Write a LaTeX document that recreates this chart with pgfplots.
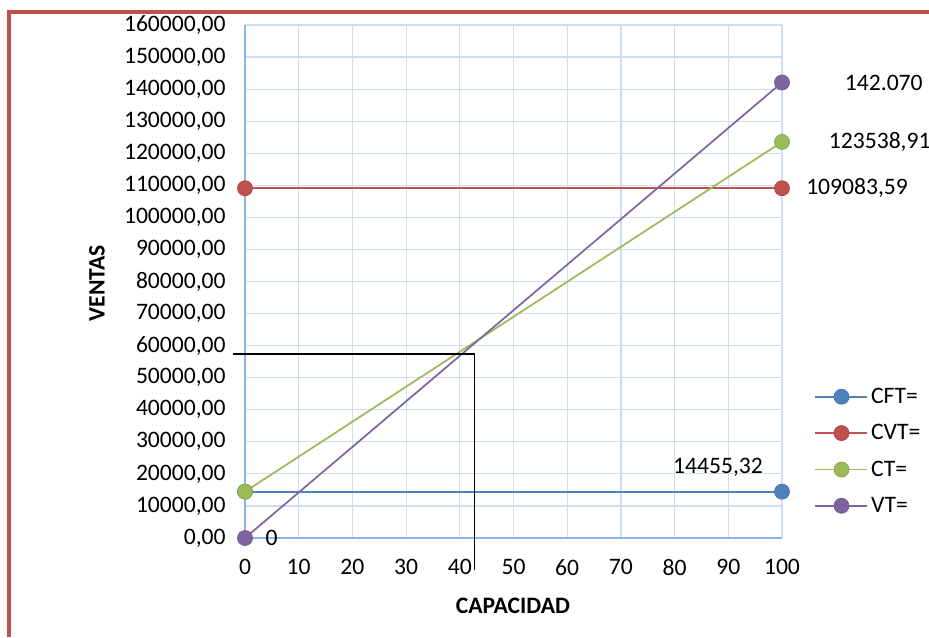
\documentclass[border=0pt]{standalone}
\usepackage{pgfplots}
\pgfplotsset{compat=1.18}
\usepackage{fontspec}
\setmainfont{Carlito}
\definecolor{framered}{RGB}{192,80,77}
\definecolor{cftblue}{RGB}{79,129,189}
\definecolor{cvtred}{RGB}{192,80,77}
\definecolor{ctgreen}{RGB}{155,187,89}
\definecolor{vtpurple}{RGB}{128,100,162}
\definecolor{gridblue}{RGB}{205,221,242}
\definecolor{axisblue}{RGB}{141,180,226}
\newcommand{\chartfont}{\fontsize{17.7}{21}\selectfont}
\begin{document}
\begin{tikzpicture}
\useasboundingbox (0,0) rectangle (696.75pt,-477.75pt);
% page frame
\draw[line width=3pt, framered] (6.75pt,-478pt) -- (6.75pt,-9pt) -- (697pt,-9pt);
\begin{axis}[
  at={(183.75pt,-403.5pt)}, anchor=south west,
  scale only axis, width=402.75pt, height=384.75pt,
  xmin=0, xmax=100, ymin=0, ymax=160000,
  xtick={0,10,...,100}, ytick={0,10000,...,160000},
  axis x line=bottom, axis y line=left,
  axis line style={axisblue, line width=1pt, -},
  major tick length=0pt,
  grid=major, grid style={gridblue, line width=0.9pt},
  clip=false,
  scaled y ticks=false,
  /pgf/number format/assume math mode=true,
  yticklabel={\pgfmathprintnumber[fixed, fixed zerofill, precision=2, use comma, 1000 sep={}]{\tick}},
  xticklabel={\pgfmathprintnumber[fixed, precision=0]{\tick}},
  ticklabel style={font=\chartfont},
  yticklabel style={xshift=-11pt},
  xticklabel style={yshift=-12.5pt},
  xlabel={CAPACIDAD}, ylabel={VENTAS},
  label style={font=\chartfont\bfseries},
  xlabel style={at={(axis description cs:0.499,-0.1326)}, anchor=center},
  ylabel style={at={(axis description cs:-0.2756,0.497)}, anchor=center},
  legend style={draw=none, fill=none, font=\chartfont,
    at={(axis description cs:1.06,0.298)}, anchor=north west,
    row sep=10.3pt, inner sep=0pt, cells={anchor=west}},
  legend image code/.code={%
    \draw[mark repeat=2, mark phase=2, #1] plot coordinates {(0pt,0pt) (19.5pt,0pt) (39pt,0pt)};},
  every axis plot/.append style={line width=1.3pt, mark=*, mark size=5.6pt},
]
\addplot[cftblue, line width=1.5pt, mark options={fill=cftblue, draw=cftblue!90!black, line width=0.6pt}] coordinates {(0,14455.32) (100,14455.32)};
\addplot[cvtred, mark options={fill=cvtred, draw=cvtred!90!black, line width=0.6pt}] coordinates {(0,109083.59) (100,109083.59)};
\addplot[ctgreen, mark options={fill=ctgreen, draw=ctgreen!90!black, line width=0.6pt}] coordinates {(0,14455.32) (100,123538.91)};
\addplot[vtpurple, mark options={fill=vtpurple, draw=vtpurple!90!black, line width=0.6pt}] coordinates {(0,0) (100,142070)};
\legend{CFT=, CVT=, CT=, VT=}
% break-even guide lines
\addplot[black, line width=1.1pt, mark=none, forget plot] coordinates {(-2.23,57400) (42.7,57400) (42.7,-9980)};
% point labels
\node[font=\chartfont, inner sep=0pt, anchor=west, xshift=47pt] at (axis cs:100,142070) {142.070};
\node[font=\chartfont, inner sep=0pt, anchor=west, xshift=35pt] at (axis cs:100,123538.91) {123538,91};
\node[font=\chartfont, inner sep=0pt, anchor=west, xshift=18pt] at (axis cs:100,109083.59) {109083,59};
\node[font=\chartfont, anchor=center, xshift=-48pt, yshift=18.5pt] at (axis cs:100,14455.32) {14455,32};
\node[font=\chartfont, anchor=center, xshift=20pt] at (axis cs:0,0) {0};
\end{axis}
\end{tikzpicture}
\end{document}
